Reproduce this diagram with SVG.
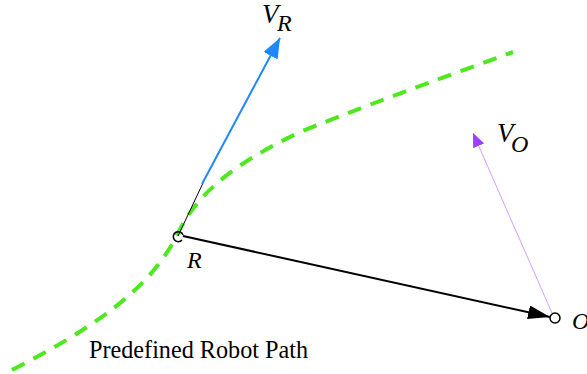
<svg xmlns="http://www.w3.org/2000/svg" width="587" height="374" viewBox="0 0 587 374">
<style>
.lbl{font-family:"Liberation Serif","Times New Roman",serif;font-style:italic;fill:#000}
.plain{font-family:"Liberation Serif","Times New Roman",serif;fill:#000}
</style>
<defs>
<marker id="ablue" markerWidth="20" markerHeight="16" refX="20" refY="8" orient="auto" markerUnits="userSpaceOnUse" viewBox="0 0 20 16"><path d="M0,0 L20,8 L0,16 Z" fill="#1e88ff"/></marker>
<marker id="ap" markerWidth="14" markerHeight="12" refX="14" refY="6" orient="auto" markerUnits="userSpaceOnUse" viewBox="0 0 14 12"><path d="M0,0 L14,6 L0,12 Z" fill="#a040ff"/></marker>
<marker id="ak" markerWidth="22" markerHeight="14" refX="22" refY="7" orient="auto" markerUnits="userSpaceOnUse" viewBox="0 0 22 14"><path d="M0,0 L22,7 L0,14 Z" fill="#000"/></marker>
</defs>
<g id="path">
<path d="M 12 370 C 90 330, 150 290, 177 235 C 195 198, 225 168, 300 132 C 380 100, 450 75, 513 52" fill="none" stroke="#4ee81e" stroke-width="4" stroke-dasharray="14 10"/>
</g>
<g id="connectors">
<line x1="178" y1="236" x2="203" y2="183" stroke="#000" stroke-width="1"/>
<line x1="202" y1="184" x2="280" y2="38" stroke="#1e88ff" stroke-width="2" marker-end="url(#ablue)"/>
<line x1="552" y1="313" x2="473" y2="133" stroke="#d49cff" stroke-width="1" marker-end="url(#ap)"/>
<line x1="183" y1="236" x2="550" y2="317" stroke="#000" stroke-width="2" marker-end="url(#ak)"/>
</g>
<g id="robot">
<path d="M 182 240 A 5 5 0 1 1 183 235" fill="none" stroke="#000" stroke-width="1.5"/>
<text class="lbl" x="187" y="268" font-size="24">R</text>
</g>
<g id="obstacle">
<circle cx="555" cy="318" r="5" fill="#fff" stroke="#000" stroke-width="1.5"/>
<text class="lbl" x="572" y="329" font-size="24">O</text>
</g>
<g id="vr-label">
<text class="lbl" x="262" y="23" font-size="27">V</text>
<text class="lbl" x="277" y="31" font-size="24">R</text>
</g>
<g id="vo-label">
<text class="lbl" x="497" y="142" font-size="27">V</text>
<text class="lbl" x="511" y="152" font-size="24">O</text>
</g>
<g id="caption">
<text class="plain" x="89" y="358" font-size="24.2">Predefined Robot Path</text>
</g>
</svg>
